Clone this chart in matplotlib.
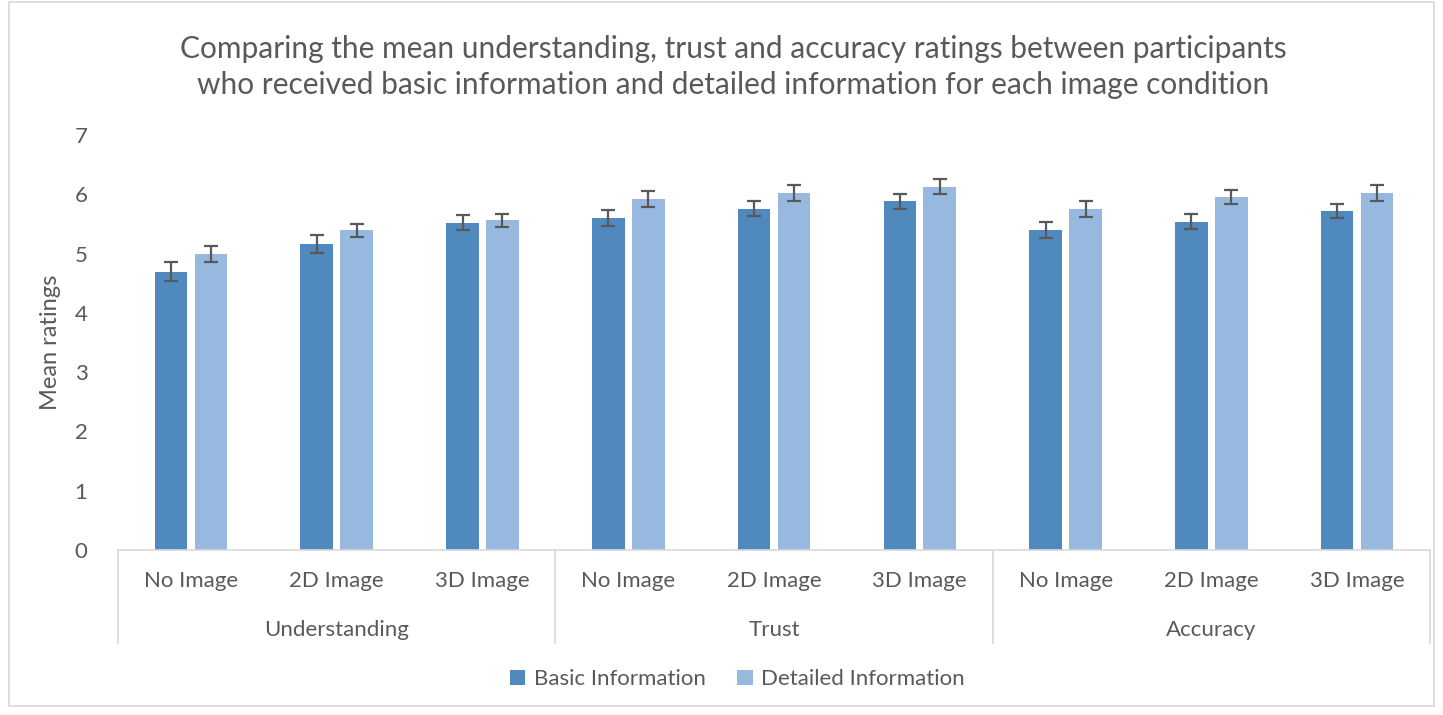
import matplotlib.pyplot as plt
import numpy as np
from matplotlib.patches import Rectangle

plt.rcParams['font.family'] = ['Lato', 'DejaVu Sans']

groups = ['Understanding', 'Trust', 'Accuracy']
conditions = ['No Image', '2D Image', '3D Image']
basic = [4.69, 5.16, 5.52, 5.60, 5.76, 5.88, 5.40, 5.54, 5.72]
detailed = [4.99, 5.39, 5.56, 5.92, 6.02, 6.13, 5.75, 5.96, 6.02]
basic_err = [0.16, 0.15, 0.13, 0.14, 0.12, 0.12, 0.14, 0.13, 0.12]
detailed_err = [0.14, 0.11, 0.11, 0.14, 0.13, 0.12, 0.14, 0.12, 0.13]

c_basic = '#4f89bd'
c_detail = '#97b9e0'
txt = '#595959'

fig = plt.figure(figsize=(14.43, 7.15), dpi=100)
ax = fig.add_axes([0.0818, 0.2308, 0.9092, 0.5804])

x = np.arange(len(basic))
w = 0.224
off = 0.137
ekw = dict(ecolor='#595959', elinewidth=1.6, capsize=5, capthick=1.6)
ax.bar(x - off, basic, w, color=c_basic, yerr=basic_err, error_kw=ekw,
       label='Basic Information')
ax.bar(x + off, detailed, w, color=c_detail, yerr=detailed_err, error_kw=ekw,
       label='Detailed Information')

ax.set_xlim(-0.5, len(basic) - 0.5)
ax.set_ylim(0, 7)
ax.set_yticks(range(8))
ax.tick_params(axis='y', length=0, pad=22, labelsize=16, labelcolor=txt)
ax.set_xticks(x)
ax.set_xticklabels(conditions * 3)
ax.tick_params(axis='x', length=0, pad=15, labelsize=16, labelcolor=txt)
for s in ['top', 'right', 'left']:
    ax.spines[s].set_visible(False)
ax.spines['bottom'].set_color('#d9d9d9')
ax.spines['bottom'].set_linewidth(1.2)

tr = ax.get_xaxis_transform()
for b in [-0.5, 2.5, 5.5, 8.5]:
    ax.plot([b, b], [0, -0.225], transform=tr, color='#d9d9d9', lw=1.2,
            clip_on=False)
for i, g in enumerate(groups):
    ax.text(3 * i + 1, -0.192, g, transform=tr, ha='center', va='center',
            fontsize=16, color=txt)

ax.set_ylabel('Mean ratings', fontsize=17, color=txt, labelpad=10)

fig.text(0.508, 0.906,
         'Comparing the mean understanding, trust and accuracy ratings between participants\n'
         'who received basic information and detailed information for each image condition',
         ha='center', va='center', fontsize=21.5, color=txt, linespacing=1.36)

fig.legend(loc='center', bbox_to_anchor=(0.511, 0.05), ncol=2, frameon=False,
           fontsize=16, labelcolor=txt, handlelength=0.7, handleheight=0.7,
           columnspacing=1.4, handletextpad=0.4)

fig.patches.append(Rectangle((0.006, 0.012), 0.988, 0.985, transform=fig.transFigure,
                             fill=False, edgecolor='#d9d9d9', lw=1.2))

fig.savefig('out.png', dpi=100)
